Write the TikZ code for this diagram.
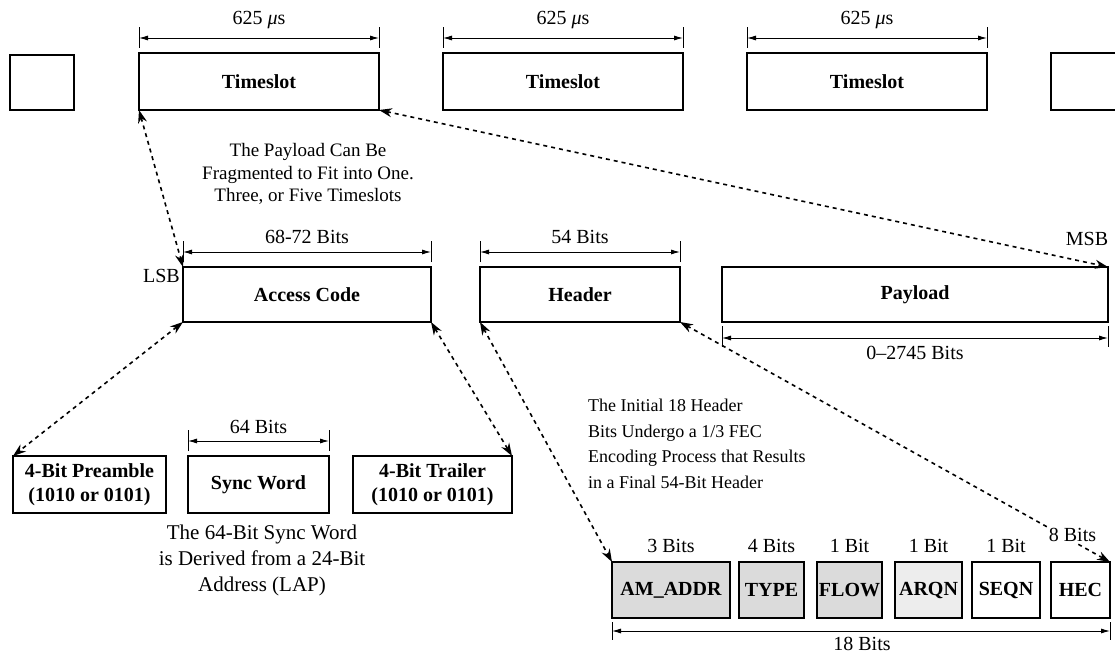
\documentclass[tikz,border=0pt]{standalone}
\usepackage{fontspec}
\setmainfont{Liberation Serif}
\usetikzlibrary{arrows.meta}
\newcommand{\dimover}[1]{%
  \draw[tickln] ([yshift=5pt]#1.north west) -- ([yshift=26pt]#1.north west);
  \draw[tickln] ([yshift=5pt]#1.north east) -- ([yshift=26pt]#1.north east);
  \draw[dimln] ([yshift=15pt]#1.north west) -- ([yshift=15pt]#1.north east);
}
\begin{document}
\begin{tikzpicture}[x=1pt,y=-1pt,
  font=\fontsize{20}{24}\selectfont,
  box/.style={draw, line width=1.1pt, inner sep=0pt, outer sep=0pt, anchor=north west,
    font=\fontsize{20}{24}\selectfont\bfseries, align=center},
  field/.style={box, line width=1.3pt, minimum height=56pt},
  dimln/.style={line width=0.9pt, {Latex[length=9pt,width=5pt]}-{Latex[length=9pt,width=5pt]}},
  tickln/.style={line width=0.9pt},
  link/.style={line width=1.6pt, dash pattern=on 4pt off 4pt,
    {Stealth[length=13pt,width=9pt]}-{Stealth[length=13pt,width=9pt]}},
  lbl/.style={inner sep=0pt}
]
\useasboundingbox (0,0) rectangle (1115,655);

% top row of timeslots
\node[box, minimum width=64pt, minimum height=55pt] (tsl) at (10,55) {};
\node[box, minimum width=240pt, minimum height=57pt] (ts1) at (139,53) {Timeslot};
\node[box, minimum width=240pt, minimum height=57pt] (ts2) at (443,53) {Timeslot};
\node[box, minimum width=240pt, minimum height=57pt] (ts3) at (747,53) {Timeslot};
\draw[line width=1.1pt] (1116,53) -- (1051,53) -- (1051,110) -- (1116,110);

\dimover{ts1}
\dimover{ts2}
\dimover{ts3}
\node[lbl] (d1) at ([yshift=33pt]ts1.north) {625 \textit{μ}s};
\node[lbl] (d2) at ([yshift=33pt]ts2.north) {625 \textit{μ}s};
\node[lbl] (d3) at ([yshift=33pt]ts3.north) {625 \textit{μ}s};

\node[lbl, align=center, font=\fontsize{19}{22.5}\selectfont] (note1) at (308,174)
  {The Payload Can Be\\Fragmented to Fit into One.\\Three, or Five Timeslots};

% packet row
\node[box, minimum width=248pt, minimum height=55pt] (ac) at (183,267) {Access Code};
\node[box, minimum width=200pt, minimum height=55pt] (hd) at (480,267) {Header};
\node[box, minimum width=386pt, minimum height=55pt] (pl) at (722,267) {Payload};

\dimover{ac}
\dimover{hd}
\node[lbl] (dac) at ([yshift=30pt]ac.north) {68-72 Bits};
\node[lbl] (dhd) at ([yshift=30pt]hd.north) {54 Bits};
\node[lbl, anchor=east] (lsb) at ([xshift=-3pt,yshift=-9pt]ac.north west) {LSB};
\node[lbl] (msb) at ([xshift=-21pt,yshift=28pt]pl.north east) {MSB};

\draw[tickln] ([yshift=-4pt]pl.south west) -- ([yshift=-25pt]pl.south west);
\draw[tickln] ([yshift=-4pt]pl.south east) -- ([yshift=-25pt]pl.south east);
\draw[dimln] ([yshift=-16pt]pl.south west) -- ([yshift=-16pt]pl.south east);
\node[lbl] (dpl) at ([yshift=-31pt]pl.south) {0–2745 Bits};

% access code parts
\node[box, minimum width=153pt, minimum height=57pt] (pre) at (13,456) {4-Bit Preamble\\(1010 or 0101)};
\node[box, minimum width=141pt, minimum height=57pt] (sync) at (188,456) {Sync Word};
\node[box, minimum width=159pt, minimum height=57pt] (trl) at (353,456) {4-Bit Trailer\\(1010 or 0101)};
\dimover{sync}
\node[lbl] (dsync) at ([yshift=29pt]sync.north) {64 Bits};
\node[lbl, align=center, font=\fontsize{21}{26}\selectfont] (note2) at (262,560)
  {The 64-Bit Sync Word\\is Derived from a 24-Bit\\Address (LAP)};

% header fields
\node[lbl, align=left, anchor=west, font=\fontsize{18}{25.5}\selectfont] (note3) at (588,444)
  {The Initial 18 Header\\Bits Undergo a 1/3 FEC\\Encoding Process that Results\\in a Final 54-Bit Header};

\node[field, fill=gray!28, minimum width=118pt] (ama) at (612,562) {AM\_ADDR};
\node[field, fill=gray!28, minimum width=65pt] (typ) at (739,562) {TYPE};
\node[field, fill=gray!28, minimum width=65pt] (flw) at (817,562) {FLOW};
\node[field, fill=gray!14, minimum width=67pt] (arq) at (895,562) {ARQN};
\node[field, fill=white, minimum width=68pt] (seq) at (972,562) {SEQN};
\node[field, fill=white, minimum width=59pt] (hec) at (1051,562) {HEC};

\node[lbl] (b1) at ([yshift=16pt]ama.north) {3 Bits};
\node[lbl] (b2) at ([yshift=16pt]typ.north) {4 Bits};
\node[lbl] (b3) at ([yshift=16pt]flw.north) {1 Bit};
\node[lbl] (b4) at ([yshift=16pt]arq.north) {1 Bit};
\node[lbl] (b5) at ([yshift=16pt]seq.north) {1 Bit};

\draw[tickln] ([yshift=-4pt]ama.south west) -- ([yshift=-22pt]ama.south west);
\draw[tickln] ([yshift=-4pt]hec.south east) -- ([yshift=-22pt]hec.south east);
\draw[dimln] ([yshift=-13pt]ama.south west) -- ([yshift=-13pt]hec.south east);
\node[lbl] (t18) at (862,644) {18 Bits};

% dashed links
\draw[link] (ts1.south west) -- (ac.north west);
\draw[link] (ts1.south east) -- (pl.north east);
\draw[link] (ac.south west) -- (pre.north west);
\draw[link] (ac.south east) -- (trl.north east);
\draw[link] (hd.south west) -- (ama.north west);
\draw[link] (hd.south east) -- (hec.north east);

\node[lbl, fill=white, inner sep=1pt] (b6) at ([xshift=-8pt,yshift=27pt]hec.north) {8 Bits};
\end{tikzpicture}
\end{document}
